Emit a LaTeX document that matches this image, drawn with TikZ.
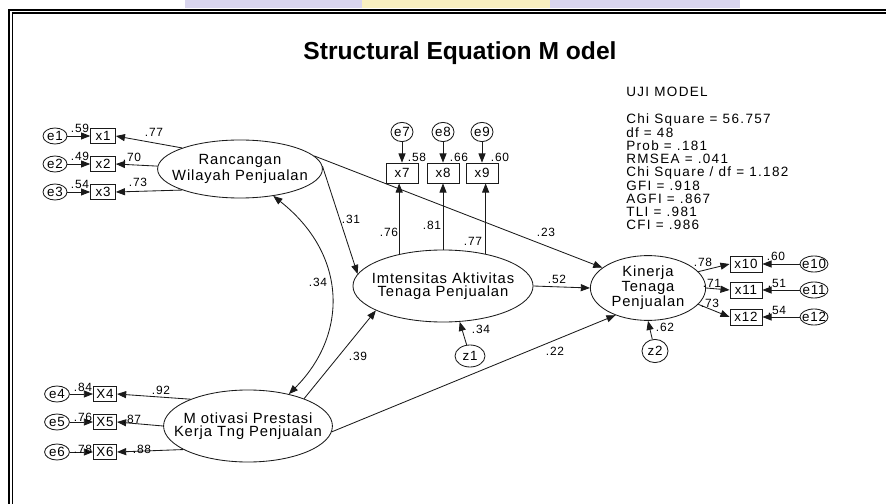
\documentclass[tikz,border=0pt]{standalone}
\usepackage{fontspec}
\setmainfont{Liberation Sans}
\newfontfamily\amosfont[LetterSpace=6]{Liberation Sans}
\newfontfamily\statfont[LetterSpace=10]{Liberation Sans}
\usepackage{tikz}
\usetikzlibrary{arrows.meta,shapes.geometric}
\definecolor{Ink}{HTML}{1A1A1A}
\definecolor{SoftLavender}{HTML}{D9D5EE}
\definecolor{SoftYellow}{HTML}{F8EFC0}

\begin{document}
\begin{tikzpicture}[x=0.025cm,y=-0.025cm,
    latent/.style={ellipse,draw=Ink,line width=0.6pt,inner xsep=-25pt,inner ysep=0pt,align=center,font=\fontsize{10.5}{9}\amosfont},
    obs/.style={rectangle,draw=Ink,line width=0.6pt,minimum width=0.62cm,minimum height=0.38cm,inner sep=0pt,font=\fontsize{9.5}{10}\amosfont},
    err/.style={ellipse,draw=Ink,line width=0.6pt,inner xsep=-8pt,inner ysep=-4pt,minimum width=0.6cm,minimum height=0.4cm,font=\fontsize{9.5}{10}\amosfont},
    coef/.style={inner sep=0pt,font=\fontsize{8.5}{9}\amosfont},
    stat/.style={anchor=base west,inner sep=0pt,font=\fontsize{9.6}{10}\statfont},
    reg/.style={draw=Ink,line width=0.6pt,-{Triangle[length=6.5pt,width=5pt]}}
]
\useasboundingbox (0,0) rectangle (886,504);
% scan strip and frame
\fill[SoftLavender] (185,0) rectangle (740,8);
\fill[SoftYellow] (362,0) rectangle (550,8);
\draw[line width=0.9pt] (9,504) -- (9,10) -- (886,10);
\draw[line width=0.9pt] (12.5,504) -- (12.5,13) -- (886,13);

\node[font=\fontsize{17.5}{20}\selectfont\bfseries,anchor=base] (title) at (460,60) {Structural Equation M odel};

% fit statistics
\node[stat] (uji) at (626,97) {UJI MODEL};
\foreach \txt [count=\k] in {Chi Square = 56.757,df = 48,Prob = .181,RMSEA = .041,Chi Square / df = 1.182,GFI = .918,AGFI = .867,TLI = .981,CFI = .986}{
    \node[stat] (st\k) at (626,{110.75+13.25*\k}) {\txt};
}

% latent variables
\node[latent,minimum width=4.12cm,minimum height=1.45cm] (R) at (240,169) {Rancangan\\Wilayah Penjualan};
\node[latent,minimum width=4.22cm,minimum height=1.8cm] (M) at (248,426) {M otivasi Prestasi\\Kerja Tng Penjualan};
\node[latent,minimum width=4.5cm,minimum height=1.8cm] (I) at (443,286) {Imtensitas Aktivitas\\Tenaga Penjualan};
\node[latent,minimum width=2.88cm,minimum height=1.62cm] (K) at (648,288) {Kinerja\\Tenaga\\Penjualan};

% indicators and errors
\foreach \i/\y in {1/136,2/164,3/192}{
    \node[obs] (x\i) at (103,\y) {x\i};
    \node[err] (e\i) at (55,\y) {e\i};
}
\foreach \i/\y in {4/394,5/422,6/452}{
    \node[obs,minimum width=0.58cm] (x\i) at (105,\y) {X\i};
    \node[err,minimum width=0.62cm] (e\i) at (57,\y) {e\i};
}
\foreach \i/\x in {7/402,8/443,9/482}{
    \node[obs,minimum width=0.8cm,minimum height=0.5cm] (x\i) at (\x,173) {x\i};
    \node[err,minimum width=0.55cm,minimum height=0.48cm] (e\i) at (\x,132) {e\i};
}
\foreach \i/\y in {10/264,11/290,12/317}{
    \node[obs,minimum width=0.8cm,minimum height=0.4cm] (x\i) at (746,\y) {x\i};
    \node[err,minimum width=0.7cm,minimum height=0.4cm] (e\i) at (814,\y) {e\i};
}
\node[err,minimum width=0.75cm,minimum height=0.55cm] (z1) at (470,356) {z1};
\node[err,minimum width=0.65cm,minimum height=0.58cm] (z2) at (655,351) {z2};

% measurement paths
\foreach \i in {1,...,12}{
    \draw[reg] (e\i) -- (x\i);
}
\draw[reg] (R.160) -- (x1.east);
\draw[reg] (R.178) -- (x2.east);
\draw[reg] (R.200) -- (x3.east);
\draw[reg] (M.155) -- (x4.east);
\draw[reg] (M.180) -- (x5.east);
\draw[reg] (M.200) -- (x6.east);
\draw[reg] (I.144) -- (I.144 |- x7.south);
\draw[reg] (I.north) -- (x8.south);
\draw[reg] (I.37) -- (I.37 |- x9.south);
\draw[reg] (K.18) -- (x10.west);
\draw[reg] (K.east) -- (x11.west);
\draw[reg] (K.342) -- (x12.west);

% structural paths
\draw[reg] (R.2) -- (I.172);
\draw[reg] (R.10) -- (K.156);
\draw[reg] (M.26) -- (I.200);
\draw[reg] (M.356) -- (K.220);
\draw[reg] (I.east) -- (K.west);
\draw[reg] (z1) -- (I.295);
\draw[reg] (z2) -- (K.south);
\draw[draw=Ink,line width=0.6pt,{Triangle[length=6.5pt,width=5pt]}-{Triangle[length=6.5pt,width=5pt]}] (R.321) .. controls (348,255) and (348,335) .. (M.38);

% estimates
\foreach \v/\x/\y [count=\k] in {.59/80/128,.49/80/156,.54/80/184,.77/154/132,.70/132/157,.73/138/182,
    .84/83/387,.76/83/417,.78/83/449,.92/161/390,.87/132/419,.88/142/449,
    .58/417/157,.66/459/157,.60/500/157,.76/389/232,.81/432/225,.77/473/241,
    .31/351/219,.34/318/282,.23/546/232,.52/557/279,.39/358/356,.34/481/329,.22/555/351,
    .78/703/262,.71/712/283,.73/710/303,.60/776/256,.51/777/283,.54/777/310,.62/665/327}{
    \node[coef] (c\k) at (\x,\y) {\v};
}
\end{tikzpicture}
\end{document}
